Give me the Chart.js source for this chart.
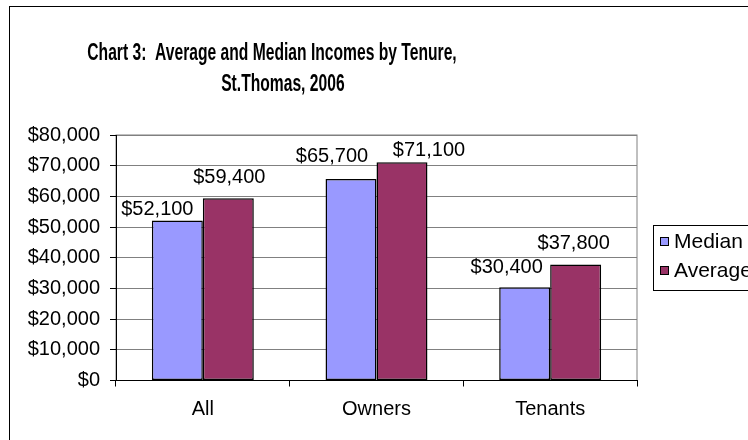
<!DOCTYPE html>
<html>
<head>
<meta charset="utf-8">
<script src="https://cdn.jsdelivr.net/npm/chart.js@4"></script>
<style>
    body { margin: 0; background: #ffffff; }
    #chart-box { width: 748px; height: 440px; }
</style>
</head>
<body>
<div id="chart-box"><canvas id="income-chart" width="748" height="440"></canvas></div>
<script>
const categories = ['All', 'Owners', 'Tenants'];
const seriesNames = ['Median', 'Average'];
const medianIncome = [52100, 65700, 30400];
const averageIncome = [59400, 71100, 37800];
const titleLines = ['Chart 3:  Average and Median Incomes by Tenure,', 'St.Thomas, 2006'];

// where Excel put each value label: [dx from bar centre, baseline above bar top]
const labelNudge = [
    [[-20, -6], [1, -15]],
    [[-19, -17], [27, -6]],
    [[-18, -14], [-2, -16]]
];

const FONT = '"Liberation Sans", Arial, sans-serif';

function money(v) {
    return '$' + v.toLocaleString('en-US');
}

const decorPlugin = {
    id: 'decor',
    beforeDraw(chart) {
        const ctx = chart.ctx;
        const area = chart.chartArea;
        ctx.save();
        // outer chart border (only left/top are inside the window)
        ctx.strokeStyle = '#000000';
        ctx.lineWidth = 1;
        ctx.strokeRect(9.5, 6.5, 800, 500);
        // title, squeezed like the original
        ctx.fillStyle = '#000000';
        ctx.textAlign = 'center';
        ctx.textBaseline = 'alphabetic';
        ctx.font = 'bold 23px ' + FONT;
        ctx.save();
        ctx.translate(272, 0);
        ctx.scale(0.68, 1);
        ctx.fillText(titleLines[0], 0, 60);
        ctx.fillText(titleLines[1], 16, 91);
        ctx.restore();
        // plot area frame
        ctx.strokeStyle = '#808080';
        ctx.strokeRect(area.left, area.top, area.right - area.left, area.bottom - area.top);
        ctx.restore();
    },
    afterDatasetsDraw(chart) {
        const ctx = chart.ctx;
        ctx.save();
        ctx.font = '20px ' + FONT;
        ctx.fillStyle = '#000000';
        ctx.textAlign = 'center';
        ctx.textBaseline = 'alphabetic';
        chart.data.datasets.forEach((ds, di) => {
            const meta = chart.getDatasetMeta(di);
            meta.data.forEach((bar, i) => {
                const nudge = labelNudge[i][di];
                ctx.fillText(money(ds.data[i]), bar.x + nudge[0], bar.y + nudge[1]);
            });
        });

        // legend box, cut by the right edge like the original
        const lx = 653, ly = 225;
        ctx.strokeStyle = '#000000';
        ctx.lineWidth = 1;
        ctx.strokeRect(lx + 0.5, ly + 0.5, 200, 65);
        ctx.textAlign = 'left';
        ctx.textBaseline = 'middle';
        ctx.font = '21px ' + FONT;
        chart.data.datasets.forEach((ds, di) => {
            const y = ly + 16 + di * 29;
            ctx.fillStyle = ds.backgroundColor;
            ctx.fillRect(lx + 7.5, y - 3.5, 8, 8);
            ctx.strokeRect(lx + 7.5, y - 3.5, 8, 8);
            ctx.fillStyle = '#000000';
            ctx.fillText(ds.label, lx + 21, y + 1);
        });
        ctx.restore();
    }
};

function createChart() {
    const ctx = document.getElementById('income-chart').getContext('2d');

    new Chart(ctx, {
        type: 'bar',
        data: {
            labels: categories,
            datasets: [{
                label: seriesNames[0],
                data: medianIncome,
                backgroundColor: '#9999ff',
                borderColor: '#000000',
                borderWidth: 1.5,
                borderSkipped: false
            }, {
                label: seriesNames[1],
                data: averageIncome,
                backgroundColor: '#993366',
                borderColor: '#000000',
                borderWidth: 1.5,
                borderSkipped: false
            }]
        },
        options: {
            responsive: false,
            animation: false,
            layout: {
                padding: { top: 135, right: 111, bottom: 0, left: 0 }
            },
            datasets: {
                bar: {
                    categoryPercentage: 0.587,
                    barPercentage: 1.0
                }
            },
            plugins: {
                legend: { display: false },
                title: { display: false },
                tooltip: { enabled: false }
            },
            scales: {
                x: {
                    offset: true,
                    grid: {
                        offset: true,
                        drawOnChartArea: false,
                        drawTicks: true,
                        tickLength: 6,
                        color: '#000000'
                    },
                    border: { color: '#000000' },
                    ticks: {
                        color: '#000000',
                        font: { family: FONT, size: 20 },
                        padding: 11
                    },
                    afterFit: scale => { scale.height = 59.5; }
                },
                y: {
                    min: 0,
                    max: 80000,
                    grid: {
                        color: '#808080',
                        tickLength: 6,
                        tickColor: '#000000'
                    },
                    border: { color: '#000000' },
                    ticks: {
                        stepSize: 10000,
                        color: '#000000',
                        font: { family: FONT, size: 20 },
                        padding: 10,
                        callback: v => money(v)
                    },
                    afterFit: scale => { scale.width = 116; }
                }
            }
        },
        plugins: [decorPlugin]
    });
}

document.addEventListener('DOMContentLoaded', () => {
    createChart();
});
</script>
</body>
</html>
